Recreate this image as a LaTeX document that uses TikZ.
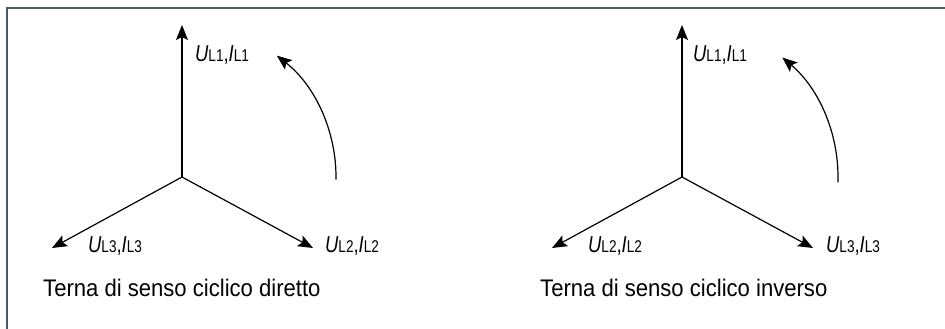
\documentclass[tikz,border=0pt]{standalone}
\usepackage{fontspec}
\setmainfont{Liberation Sans}
\newfontfamily\labfont[FakeStretch=0.8]{Liberation Sans}
\newfontfamily\captfont[FakeStretch=0.92]{Liberation Sans}
\usepackage{tikz}
\usetikzlibrary{arrows.meta}
\definecolor{fFrame}{HTML}{4E5B66}
\definecolor{vInk}{HTML}{000000}
\newcommand{\phlab}[1]{{\itshape U}{\fontsize{17}{17}\selectfont L#1},{\itshape I}{\fontsize{17}{17}\selectfont L#1}}
\tikzset{
  vec/.style={-{Stealth[length=15pt,width=12pt,inset=3pt]}, line width=1.2pt, vInk},
  rot/.style={vec},
  lab/.style={anchor=base west, inner sep=0pt, font=\labfont\fontsize{23}{23}\selectfont},
  capt/.style={anchor=base west, inner sep=0pt, font=\captfont\fontsize{24}{24}\selectfont},
}
\begin{document}
\begin{tikzpicture}[x=1pt, y=1pt]
      \useasboundingbox (0,0) rectangle (945,329);
      % frame
      \draw[fFrame, line width=2.6pt] (7,0) -- (7,321) -- (945,321);
      % direct sequence
      \coordinate (oD) at (182,152);
      \coordinate (dA) at (182,304);
      \coordinate (dB) at (313,81);
      \coordinate (dC) at (52,81);
      \draw[vec] (oD) -- (dA);
      \draw[vec] (oD) -- (dB);
      \draw[vec] (oD) -- (dC);
      \draw[rot] ([shift={(-1:154)}]oD) arc[start angle=-1, end angle=52, radius=154];
      \node[lab] (dLa) at (195,267) {\phlab{1}};
      \node[lab] (dLb) at (325,76) {\phlab{2}};
      \node[lab] (dLc) at (88,76) {\phlab{3}};
      \node[capt] (dCap) at (43,32) {Terna di senso ciclico diretto};
      % inverse sequence
      \coordinate (oI) at (682,152);
      \coordinate (iA) at (682,304);
      \coordinate (iB) at (813,81);
      \coordinate (iC) at (552,81);
      \draw[vec] (oI) -- (iA);
      \draw[vec] (oI) -- (iB);
      \draw[vec] (oI) -- (iC);
      \draw[rot] ([shift={(-2:156)}]oI) arc[start angle=-2, end angle=50, radius=156];
      \node[lab] (iLa) at (693,267) {\phlab{1}};
      \node[lab] (iLb) at (826,76) {\phlab{3}};
      \node[lab] (iLc) at (588,76) {\phlab{2}};
      \node[capt] (iCap) at (540,32) {Terna di senso ciclico inverso};
    \end{tikzpicture}
\end{document}
